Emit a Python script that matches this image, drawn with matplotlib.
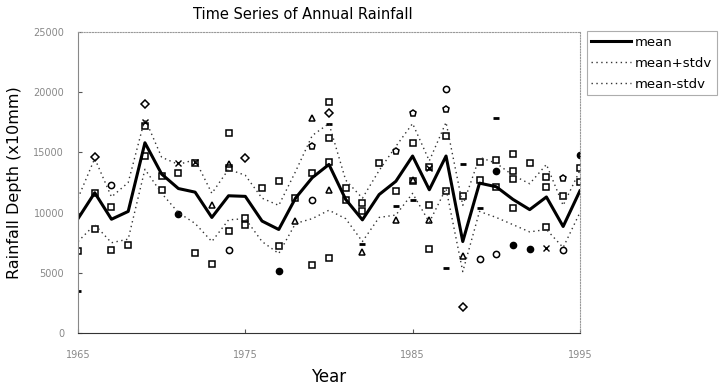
import matplotlib
matplotlib.use("Agg")
import matplotlib.pyplot as plt
import numpy as np

years = np.arange(1965, 1996)

mean = [9500, 11650, 9450, 10100, 15800, 13200, 12000, 11700, 9600, 11400,
        11350, 9300, 8600, 11200, 12900, 14000, 11100, 9400, 11500, 12600,
        14700, 11900, 14700, 7600, 12450, 12150, 11100, 10250, 11300, 8850, 11800]
mean_plus = [11200, 14500, 11300, 12500, 17800, 14600, 14000, 14400, 11600, 13600,
             13100, 11200, 10600, 13400, 16400, 17400, 12700, 11200, 13500, 15500,
             17400, 14300, 17500, 10600, 14600, 14100, 13100, 12400, 14000, 10600, 13500]
mean_minus = [7600, 9000, 7500, 7800, 13600, 11600, 10000, 9100, 7600, 9400,
              9500, 7600, 6600, 9100, 9500, 10200, 9500, 7600, 9600, 9800,
              11600, 9200, 12000, 5100, 10100, 9600, 9000, 8400, 8600, 7100, 10000]

# individual station values, grouped by marker
sq_years = [1965, 1966, 1966, 1967, 1967, 1968, 1969, 1969, 1970, 1970, 1971, 1972, 1972,
            1973, 1974, 1974, 1974, 1975, 1975, 1976, 1977, 1977, 1978, 1979, 1979,
            1980, 1980, 1980, 1980, 1981, 1981, 1982, 1982, 1983, 1984, 1985, 1985,
            1986, 1986, 1986, 1987, 1987, 1988, 1989, 1989, 1990, 1990, 1991, 1991,
            1991, 1991, 1992, 1993, 1993, 1993, 1994, 1995, 1995]
sq_vals = [6780, 8640, 11670, 6920, 10470, 7330, 14690, 17190, 11920, 13000, 13300, 6640, 14140,
           5750, 16640, 13700, 8440, 9560, 9000, 12060, 12610, 7250, 11220, 5670, 13300,
           19200, 16200, 14200, 6200, 12060, 11080, 10810, 10100, 14140, 11780, 15810, 12600,
           13800, 10670, 6950, 16400, 11780, 11360, 14200, 12750, 14350, 12140, 14880, 13440,
           12810, 10390, 14150, 12970, 12140, 8830, 11360, 13720, 12560]
dia_years = [1966, 1969, 1975, 1980, 1988]
dia_vals = [14600, 19000, 14500, 18300, 2140]
tri_years = [1973, 1974, 1978, 1979, 1980, 1982, 1984, 1985, 1986, 1988]
tri_vals = [10670, 14000, 9280, 17890, 11920, 6700, 9360, 12750, 9400, 6360]
circ_years = [1967, 1974, 1979, 1987, 1989, 1990, 1994]
circ_vals = [12330, 6920, 11080, 20300, 6140, 6550, 6920]
pent_years = [1979, 1984, 1985, 1987, 1994]
pent_vals = [15530, 15110, 18300, 18580, 12890]
fill_years = [1971, 1977, 1990, 1991, 1992, 1995]
fill_vals = [9900, 5180, 13440, 7280, 7000, 14750]
dash_years = [1965, 1980, 1982, 1984, 1985, 1987, 1988, 1989, 1990]
dash_vals = [3480, 17330, 7400, 10530, 11080, 5420, 14000, 10390, 17850]
x_years = [1969, 1971, 1972, 1986, 1993]
x_vals = [17500, 14140, 14200, 13720, 7060]

fig = plt.figure(figsize=(7.19, 3.9), dpi=100, facecolor='white')
ax = fig.add_axes([0.1085, 0.146, 0.698, 0.772])

mk = dict(linestyle='none', markerfacecolor='none', markeredgecolor='black',
          markeredgewidth=1.1, markersize=4.5)
ax.plot(sq_years, sq_vals, marker='s', **mk)
ax.plot(dia_years, dia_vals, marker='D', **{**mk, 'markersize': 4})
ax.plot(tri_years, tri_vals, marker='^', **mk)
ax.plot(circ_years, circ_vals, marker='o', **mk)
ax.plot(pent_years, pent_vals, marker='p', **mk)
ax.plot(fill_years, fill_vals, marker='o', linestyle='none', color='black', markersize=4.5)
ax.plot(dash_years, dash_vals, marker='_', linestyle='none', color='black',
        markersize=5, markeredgewidth=2)
ax.plot(x_years, x_vals, marker='x', linestyle='none', color='black',
        markersize=4, markeredgewidth=1)

ax.plot(years, mean, color='black', linewidth=2.2, label='mean')
ax.plot(years, mean_plus, color='#333333', linewidth=1, linestyle=(0, (1, 2.5)),
        label='mean+stdv')
ax.plot(years, mean_minus, color='#333333', linewidth=1, linestyle=(0, (1, 2.5)),
        label='mean-stdv')

ax.set_xlim(1965, 1995)
ax.set_ylim(0, 25000)
ax.set_xticks([1965, 1975, 1985, 1995])
ax.set_yticks([0, 5000, 10000, 15000, 20000, 25000])
ax.tick_params(axis='both', labelsize=7, labelcolor='#888888', length=3,
               direction='in', color='#555555', width=0.8)
ax.tick_params(axis='y', pad=10)
ax.tick_params(axis='x', pad=12)

for side in ['top', 'right']:
    ax.spines[side].set_linestyle((0, (1, 1.5)))
    ax.spines[side].set_color('#999999')
    ax.spines[side].set_linewidth(0.8)
ax.spines['left'].set_color('#888888')
ax.spines['bottom'].set_color('#333333')

ax.set_xlabel('Year', fontsize=12, labelpad=6)
ax.set_ylabel('Rainfall Depth (x10mm)', fontsize=11.5, labelpad=8)
fig.text(0.421, 0.962, 'Time Series of Annual Rainfall', ha='center', va='center',
         fontsize=10.5)

handles, labels = ax.get_legend_handles_labels()
leg = fig.legend(handles[-3:], labels[-3:], loc='upper left',
                 bbox_to_anchor=(0.816, 0.92), frameon=True, fancybox=False,
                 fontsize=9.5, handlelength=3.0, handletextpad=0.3,
                 borderpad=0.35, labelspacing=0.6, borderaxespad=0)
leg.get_frame().set_edgecolor('#999999')
leg.get_frame().set_linewidth(0.8)

plt.savefig('out.png', dpi=100, facecolor='white')
